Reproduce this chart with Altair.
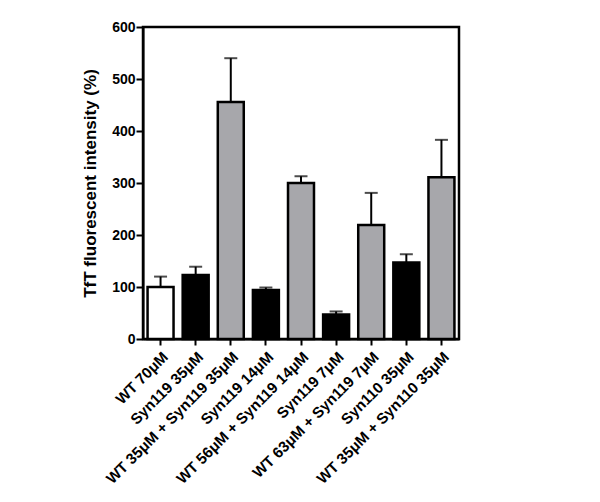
import altair as alt
import pandas as pd

categories = ["WT 70μM", "Syn119 35μM", "WT 35μM + Syn119 35μM", "Syn119 14μM",
              "WT 56μM + Syn119 14μM", "Syn119 7μM", "WT 63μM + Syn119 7μM",
              "Syn110 35μM", "WT 35μM + Syn110 35μM"]
means = [100, 123, 456, 94, 300, 47, 219, 147, 311]
uppers = [120, 139, 540, 99, 313, 53, 281, 163, 383]
groups = ["wt", "single", "mix", "single", "mix", "single", "mix", "single", "mix"]
group_colors = {"wt": "#ffffff", "single": "#000000", "mix": "#a7a7ab"}

df = pd.DataFrame({"cat": categories, "mean": means, "upper": uppers, "group": groups})

FONT = "Liberation Sans"

x = alt.X("cat:N", sort=categories, title=None,
          scale=alt.Scale(paddingInner=0.26, paddingOuter=0.13),
          axis=alt.Axis(labelAngle=-45, labelAlign="right", labelBaseline="top",
                        labelFont=FONT, labelFontSize=15.2, labelFontWeight="bold",
                        labelColor="black", tickColor="black", tickWidth=2, tickSize=6,
                        domainColor="black", domainWidth=2, labelPadding=4,
                        labelLimit=300))
y = alt.Y("mean:Q", title="TfT fluorescent intensity (%)",
          scale=alt.Scale(domain=[0, 600], nice=False),
          axis=alt.Axis(values=[0, 100, 200, 300, 400, 500, 600], grid=False,
                        labelFont=FONT, labelFontSize=14, labelFontWeight="bold",
                        labelColor="black", tickColor="black", tickWidth=2, tickSize=7,
                        domainColor="black", domainWidth=2, labelPadding=1,
                        titleFont=FONT, titleFontSize=17, titleFontWeight="bold",
                        titleColor="black", titlePadding=12))

base = alt.Chart(df)

err = base.mark_rule(color="black", strokeWidth=2).encode(
    x=x, y=alt.Y("mean:Q"), y2="upper:Q")
cap = base.mark_tick(color="black", thickness=2, size=13).encode(
    x=x, y=alt.Y("upper:Q"))
bars = base.mark_bar(stroke="black", strokeWidth=2.5).encode(
    x=x, y=y,
    fill=alt.Fill("group:N", scale=alt.Scale(domain=list(group_colors.keys()),
                                             range=list(group_colors.values())),
                  legend=None))

chart = alt.layer(err, cap, bars).properties(
    width=316, height=312,
    background="white",
    autosize=alt.AutoSizeParams(type="none"),
    padding={"left": 135, "top": 19, "right": 133, "bottom": 155},
).configure_view(stroke="black", strokeWidth=2.5)

chart.save("out.html", embed_options={"renderer": "svg", "actions": False})
